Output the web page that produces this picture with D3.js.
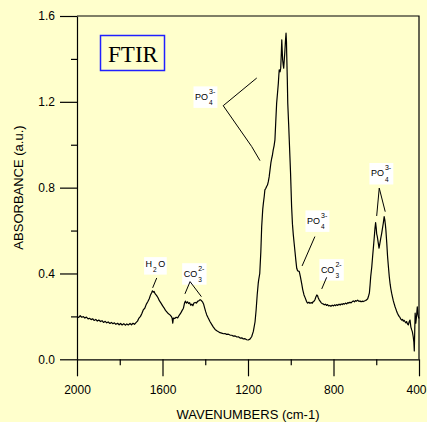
<!DOCTYPE html>
<html>
<head>
<meta charset="utf-8">
<script src="https://cdn.jsdelivr.net/npm/d3@7"></script>
<style>
  html, body { margin: 0; padding: 0; background: #ffffcc; }
  svg { display: block; }
</style>
</head>
<body>
<svg id="chart" width="427" height="422"></svg>
<script>
// FTIR absorbance spectrum: wavenumber (cm-1) and absorbance (a.u.)
const wavenumbers = [
  2000, 1992, 1985, 1978, 1970, 1963, 1956, 1948, 1941, 1934, 1927, 1920, 1912, 1905, 1898, 1890,
  1883, 1876, 1868, 1861, 1854, 1846, 1839, 1832, 1825, 1818, 1810, 1803, 1796, 1789, 1781, 1774,
  1767, 1760, 1752, 1745, 1738, 1731, 1724, 1717, 1710, 1703, 1697, 1690, 1683, 1676, 1669, 1662,
  1656, 1651, 1647, 1643, 1639, 1635, 1628, 1621, 1614, 1607, 1600, 1593, 1586, 1579, 1572, 1565,
  1559, 1555, 1552, 1549, 1543, 1536, 1529, 1522, 1515, 1508, 1502, 1497, 1493, 1488, 1483, 1478,
  1473, 1468, 1463, 1458, 1453, 1447, 1441, 1436, 1430, 1424, 1418, 1413, 1408, 1403, 1398, 1393,
  1386, 1378, 1370, 1362, 1354, 1346, 1338, 1331, 1323, 1315, 1308, 1300, 1292, 1284, 1276, 1268,
  1260, 1252, 1245, 1237, 1229, 1222, 1214, 1206, 1199, 1191, 1183, 1175, 1167, 1162, 1157, 1152,
  1150, 1145, 1140, 1136, 1131, 1128, 1124, 1121, 1117, 1113, 1109, 1105, 1101, 1097, 1093, 1089,
  1086, 1082, 1078, 1074, 1070, 1066, 1062, 1058, 1056, 1054, 1050, 1047, 1044, 1042, 1040, 1038,
  1035, 1033, 1030, 1028, 1025, 1022, 1020, 1019, 1016, 1014, 1010, 1007, 1001, 996, 992, 988,
  984, 980, 976, 972, 968, 964, 960, 955, 949, 944, 938, 932, 926, 921, 915, 910,
  904, 899, 895, 890, 886, 882, 878, 875, 871, 867, 862, 857, 852, 848, 843, 838,
  833, 828, 823, 817, 812, 806, 800, 795, 790, 785, 780, 774, 769, 764, 759, 754,
  749, 744, 738, 733, 728, 723, 718, 712, 707, 702, 697, 692, 687, 681, 676, 671,
  666, 661, 655, 650, 645, 640, 636, 632, 629, 626, 621, 617, 613, 609, 606, 603,
  600, 598, 595, 591, 587, 583, 579, 575, 572, 567, 563, 560, 557, 555, 551, 547,
  543, 539, 535, 532, 528, 524, 520, 516, 512, 508, 505, 501, 497, 493, 489, 485,
  481, 477, 473, 469, 465, 461, 458, 454, 450, 446, 442, 438, 434, 431, 427, 424,
  422, 420, 418, 415, 412, 408, 405, 403, 400
];
const absorbance = [
  0.200, 0.195, 0.203, 0.196, 0.199, 0.192, 0.197, 0.188, 0.191, 0.185, 0.189, 0.181, 0.186, 0.178, 0.183, 0.176,
  0.180, 0.172, 0.177, 0.170, 0.174, 0.167, 0.172, 0.166, 0.170, 0.163, 0.168, 0.161, 0.167, 0.160, 0.166, 0.159,
  0.165, 0.160, 0.167, 0.161, 0.168, 0.163, 0.171, 0.178, 0.192, 0.200, 0.212, 0.230, 0.238, 0.256, 0.268, 0.282,
  0.300, 0.310, 0.319, 0.313, 0.316, 0.306, 0.298, 0.287, 0.272, 0.262, 0.250, 0.240, 0.228, 0.220, 0.212, 0.207,
  0.200, 0.192, 0.168, 0.192, 0.190, 0.196, 0.193, 0.205, 0.215, 0.228, 0.238, 0.262, 0.271, 0.262, 0.268, 0.260,
  0.264, 0.252, 0.257, 0.250, 0.262, 0.265, 0.262, 0.270, 0.273, 0.278, 0.274, 0.268, 0.258, 0.240, 0.222, 0.207,
  0.192, 0.176, 0.163, 0.150, 0.139, 0.133, 0.128, 0.124, 0.122, 0.119, 0.120, 0.116, 0.117, 0.113, 0.112, 0.108,
  0.109, 0.104, 0.105, 0.099, 0.100, 0.095, 0.096, 0.091, 0.090, 0.094, 0.105, 0.130, 0.175, 0.230, 0.300, 0.355,
  0.370, 0.400, 0.500, 0.618, 0.700, 0.728, 0.760, 0.790, 0.796, 0.805, 0.812, 0.828, 0.850, 0.883, 0.915, 0.937,
  0.950, 0.976, 0.995, 1.023, 1.110, 1.194, 1.240, 1.287, 1.320, 1.349, 1.340, 1.357, 1.430, 1.489, 1.440, 1.396,
  1.370, 1.357, 1.400, 1.427, 1.480, 1.520, 1.480, 1.427, 1.300, 1.194, 1.100, 1.023, 0.870, 0.712, 0.630, 0.580,
  0.540, 0.500, 0.460, 0.424, 0.413, 0.411, 0.409, 0.385, 0.354, 0.325, 0.300, 0.285, 0.269, 0.262, 0.266, 0.261,
  0.264, 0.262, 0.269, 0.272, 0.280, 0.292, 0.300, 0.297, 0.286, 0.277, 0.270, 0.263, 0.259, 0.258, 0.254, 0.257,
  0.251, 0.255, 0.249, 0.251, 0.247, 0.252, 0.249, 0.254, 0.250, 0.255, 0.251, 0.257, 0.253, 0.258, 0.255, 0.260,
  0.257, 0.262, 0.258, 0.264, 0.262, 0.266, 0.263, 0.269, 0.272, 0.268, 0.274, 0.271, 0.276, 0.270, 0.272, 0.268,
  0.271, 0.269, 0.272, 0.274, 0.277, 0.282, 0.295, 0.310, 0.345, 0.385, 0.430, 0.479, 0.525, 0.572, 0.610, 0.637,
  0.610, 0.585, 0.572, 0.545, 0.518, 0.540, 0.564, 0.585, 0.603, 0.635, 0.665, 0.650, 0.625, 0.603, 0.545, 0.479,
  0.430, 0.385, 0.350, 0.330, 0.308, 0.290, 0.272, 0.258, 0.245, 0.234, 0.225, 0.215, 0.207, 0.200, 0.195, 0.187,
  0.183, 0.186, 0.178, 0.181, 0.175, 0.170, 0.176, 0.165, 0.160, 0.175, 0.183, 0.150, 0.137, 0.128, 0.105, 0.080,
  0.039, 0.130, 0.215, 0.168, 0.195, 0.245, 0.210, 0.199, 0.190
];

// Axis ticks
const xTickValues = [2000, 1600, 1200, 800, 400];
const xMinorTicks = [1800, 1400, 1000, 600];
const yTickValues = [0.0, 0.4, 0.8, 1.2, 1.6];
const yMinorTicks = [0.2, 0.6, 1.0, 1.4];

// Band assignments: text pieces, anchor (wavenumber, absorbance) and leader polylines
const bandLabels = [
  [{ base: "PO" }, { sub: "4", sup: "3-" }],
  [{ base: "H" }, { sub: "2" }, { base: "O" }],
  [{ base: "CO" }, { sub: "3", sup: "2-" }],
  [{ base: "PO" }, { sub: "4", sup: "3-" }],
  [{ base: "CO" }, { sub: "3", sup: "2-" }],
  [{ base: "PO" }, { sub: "4", sup: "3-" }]
];
const bandAnchors = [[1448, 1.209], [1679, 0.432], [1501, 0.385], [924, 0.631], [859, 0.404], [625, 0.852]];
const bandLeaders = [
  [[1159, 1.311], [1316, 1.182], [1183, 0.992], [1144, 0.926]],
  [[1627, 0.379], [1646, 0.333]],
  [[1495, 0.305], [1471, 0.362], [1418, 0.292]],
  [[887, 0.572], [947, 0.435]],
  [[832, 0.382], [855, 0.328]],
  [[598, 0.668], [586, 0.798], [558, 0.688]]
];

const svg = d3.select("#chart");
const W = 427, H = 422;
const plotLeft = 77, plotRight = 419, plotTop = 16, plotBottom = 359.3;
const sansFont = "Arial, 'Liberation Sans', Helvetica, sans-serif";

svg.append("rect").attr("width", W).attr("height", H).attr("fill", "#ffffcc");

const x = d3.scaleLinear().domain([2000, 400]).range([plotLeft, plotRight]);
const y = d3.scaleLinear().domain([0, 1.6]).range([plotBottom, plotTop]);

// Frame: top and right edges
svg.append("path")
  .attr("d", `M${plotLeft},${plotTop}H${plotRight}V${plotBottom}`)
  .attr("fill", "none").attr("stroke", "#000").attr("stroke-width", 1.2);

// Bottom axis
const gx = svg.append("g").attr("transform", `translate(0,${plotBottom})`)
  .call(d3.axisBottom(x).tickValues(xTickValues).tickSize(17).tickSizeOuter(0).tickPadding(9).tickFormat(d3.format("d")));
svg.append("g").attr("transform", `translate(0,${plotBottom})`)
  .call(d3.axisBottom(x).tickValues(xMinorTicks).tickSize(6).tickSizeOuter(0).tickFormat(""))
  .call(g => g.select(".domain").remove());
// keep the last label inside the page edge
gx.selectAll(".tick").filter(d => d === 400).select("text")
  .attr("text-anchor", "end").attr("x", W - plotRight - 1);

// Left axis
svg.append("g").attr("transform", `translate(${plotLeft},0)`)
  .call(d3.axisLeft(y).tickValues(yTickValues).tickSize(17).tickSizeOuter(0).tickPadding(5).tickFormat(d3.format(".1f")));
svg.append("g").attr("transform", `translate(${plotLeft},0)`)
  .call(d3.axisLeft(y).tickValues(yMinorTicks).tickSize(6).tickSizeOuter(0).tickFormat(""))
  .call(g => g.select(".domain").remove());

svg.selectAll(".domain, .tick line").attr("stroke", "#000").attr("stroke-width", 1.2);
svg.selectAll(".tick text").attr("font-family", sansFont).attr("font-size", 12).attr("fill", "#000");

// Axis titles
svg.append("text")
  .attr("x", 248).attr("y", 418.5)
  .attr("text-anchor", "middle")
  .attr("font-family", sansFont).attr("font-size", 13)
  .text("WAVENUMBERS (cm-1)");
svg.append("text")
  .attr("transform", "translate(22.5,187.5) rotate(-90)")
  .attr("text-anchor", "middle")
  .attr("font-family", sansFont).attr("font-size", 13)
  .text("ABSORBANCE (a.u.)");

// Spectrum
const pts = wavenumbers.map((w, i) => [w, absorbance[i]]);
svg.append("path")
  .datum(pts)
  .attr("fill", "none")
  .attr("stroke", "#000")
  .attr("stroke-width", 1.2)
  .attr("stroke-linejoin", "round")
  .attr("d", d3.line().x(d => x(d[0])).y(d => y(d[1])));

// Band labels with white backing
bandLabels.forEach((parts, i) => {
  const g = svg.append("g");
  const bg = g.append("rect").attr("fill", "#fff");
  const tg = g.append("g").attr("font-family", sansFont).attr("fill", "#000");
  let cx = x(bandAnchors[i][0]);
  const by = y(bandAnchors[i][1]);
  parts.forEach(p => {
    if (p.base) {
      const t = tg.append("text").attr("x", cx).attr("y", by).attr("font-size", 9).text(p.base);
      cx += t.node().getComputedTextLength() + 1;
    } else {
      let w = 0;
      if (p.sup) {
        const s = tg.append("text").attr("x", cx).attr("y", by - 6).attr("font-size", 7).text(p.sup);
        w = Math.max(w, s.node().getComputedTextLength());
      }
      if (p.sub) {
        const s = tg.append("text").attr("x", cx).attr("y", by + 5.5).attr("font-size", 6.5).text(p.sub);
        w = Math.max(w, s.node().getComputedTextLength());
      }
      cx += w + 1.5;
    }
  });
  const bb = tg.node().getBBox();
  bg.attr("x", bb.x - 1.5).attr("y", bb.y - 1.5).attr("width", bb.width + 3).attr("height", bb.height + 3);
});

// Leader lines
svg.append("g").selectAll("path")
  .data(bandLeaders)
  .join("path")
  .attr("fill", "none")
  .attr("stroke", "#000")
  .attr("stroke-width", 1)
  .attr("d", d3.line().x(d => x(d[0])).y(d => y(d[1])));

// Title box
svg.append("rect")
  .attr("x", 100.5).attr("y", 35.5).attr("width", 64).attr("height", 35)
  .attr("fill", "none").attr("stroke", "#2020ff").attr("stroke-width", 1.5);
svg.append("text")
  .attr("x", 133).attr("y", 61.5)
  .attr("text-anchor", "middle")
  .attr("font-family", "'Times New Roman', 'Liberation Serif', serif")
  .attr("font-size", 23)
  .text("FTIR");
</script>
</body>
</html>
